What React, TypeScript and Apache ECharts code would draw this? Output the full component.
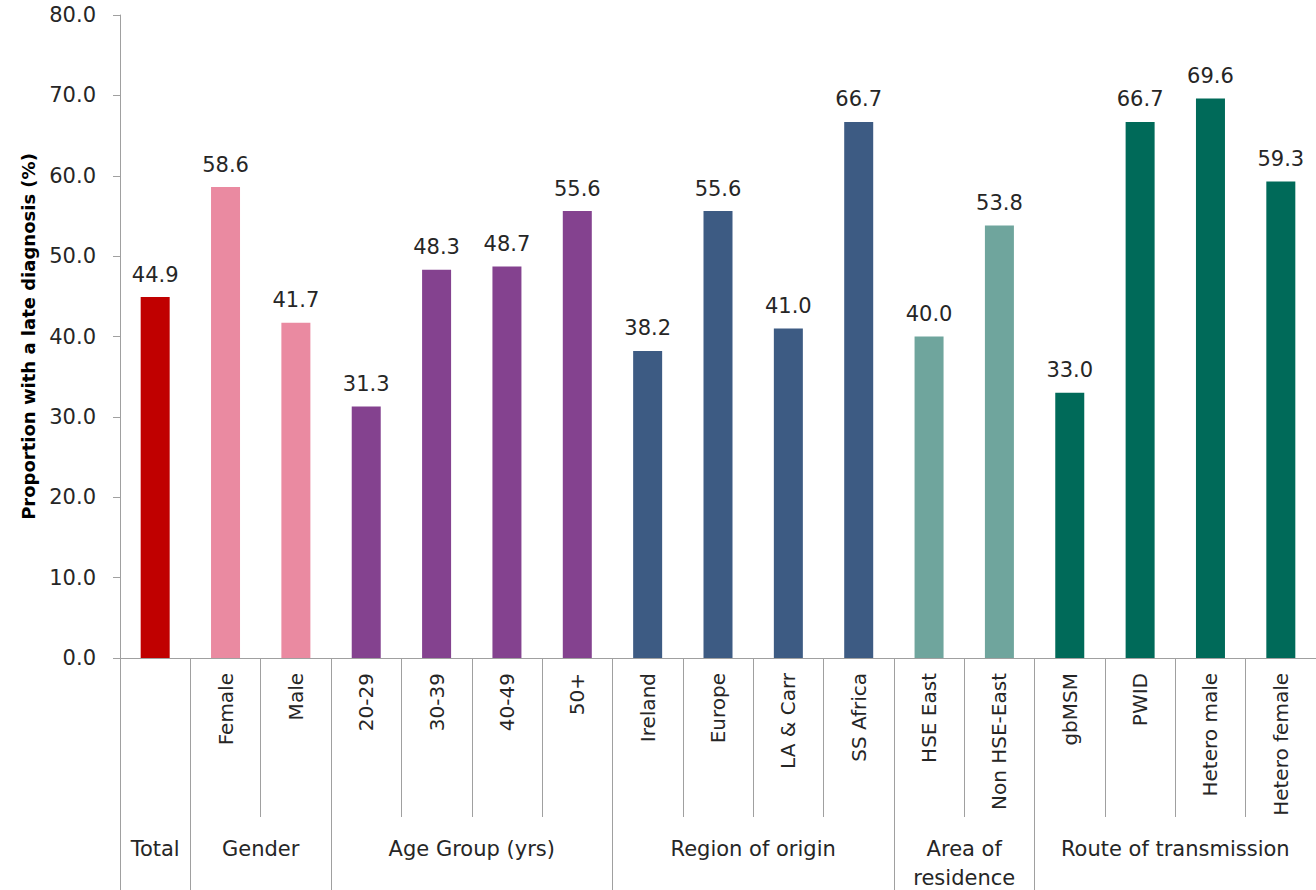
import React, { useEffect, useRef } from "react";
import * as echarts from "echarts";

const categories = [
  "Total", "Female", "Male", "20-29", "30-39", "40-49", "50+",
  "Ireland", "Europe", "LA & Carr", "SS Africa", "HSE East", "Non HSE-East",
  "gbMSM", "PWID", "Hetero male", "Hetero female",
];
const values = [44.9, 58.6, 41.7, 31.3, 48.3, 48.7, 55.6, 38.2, 55.6, 41.0, 66.7, 40.0, 53.8, 33.0, 66.7, 69.6, 59.3];
const groupIndex = [0, 1, 1, 2, 2, 2, 2, 3, 3, 3, 3, 4, 4, 5, 5, 5, 5];
const groupNames = ["Total", "Gender", "Age Group (yrs)", "Region of origin", "Area of\nresidence", "Route of transmission"];
const groupColors = ["#C00000", "#EA8AA1", "#84428F", "#3D5B83", "#6FA59D", "#006A59"];
const yTicks = { min: 0, max: 80, interval: 10 };
const yTitle = "Proportion with a late diagnosis (%)";

const FONT = "DejaVu Sans";
const TEXT = "#262626";
const LINE = "#A0A0A0";

export default function App() {
  const ref = useRef<HTMLDivElement>(null);
  useEffect(() => {
    if (!ref.current) return;
    const chart = echarts.init(ref.current, undefined, { renderer: "svg" });
    const groupSize = groupNames.map((_, g) => groupIndex.filter((x) => x === g).length);
    const isGroupStart = (i: number) => i === 0 || groupIndex[i] !== groupIndex[i - 1];
    chart.setOption({
      animation: false,
      grid: { left: 120, right: -4, top: 15, bottom: 232 },
      xAxis: [
        {
          type: "category",
          data: categories,
          position: "bottom",
          axisLine: { show: true, lineStyle: { color: LINE, width: 1 } },
          axisTick: { show: true, interval: 0, length: 159, lineStyle: { color: LINE, width: 1 } },
          axisLabel: {
            interval: 0,
            rotate: 90,
            margin: 15,
            fontFamily: FONT,
            fontSize: 20,
            color: TEXT,
            formatter: (v: string, i: number) => (groupSize[groupIndex[i]] === 1 ? "" : v),
          },
        },
        {
          type: "category",
          data: categories,
          position: "bottom",
          axisLine: { show: false },
          axisTick: {
            show: true,
            interval: (i: number) => isGroupStart(i),
            length: 232,
            lineStyle: { color: LINE, width: 1 },
          },
          axisLabel: { show: false },
        },
      ],
      yAxis: {
        type: "value",
        min: yTicks.min,
        max: yTicks.max,
        interval: yTicks.interval,
        name: yTitle,
        nameLocation: "middle",
        nameGap: 83,
        nameTextStyle: { fontFamily: FONT, fontSize: 18, fontWeight: "bold", color: "#000" },
        axisLine: { show: true, lineStyle: { color: LINE, width: 1 } },
        axisTick: { show: true, length: 7, lineStyle: { color: LINE } },
        splitLine: { show: false },
        axisLabel: {
          margin: 24,
          fontFamily: FONT,
          fontSize: 21,
          color: TEXT,
          formatter: (v: number) => v.toFixed(1),
        },
      },
      series: [
        {
          type: "bar",
          xAxisIndex: 0,
          barWidth: 29,
          data: values.map((v, i) => ({ value: v, itemStyle: { color: groupColors[groupIndex[i]] } })),
          label: {
            show: true,
            position: "top",
            distance: 12,
            fontFamily: FONT,
            fontSize: 21,
            color: TEXT,
            formatter: (p: any) => Number(p.value).toFixed(1),
          },
        },
      ],
    });
    const graphics: any[] = [];
    groupNames.forEach((name, g) => {
      const idx = groupIndex.map((x, i) => (x === g ? i : -1)).filter((i) => i >= 0);
      const x0 = chart.convertToPixel({ xAxisIndex: 0 }, idx[0]) as number;
      const x1 = chart.convertToPixel({ xAxisIndex: 0 }, idx[idx.length - 1]) as number;
      const y0 = chart.convertToPixel({ yAxisIndex: 0 }, 0) as number;
      graphics.push({
        type: "text",
        x: (x0 + x1) / 2,
        y: y0 + 176,
        style: {
          text: name,
          fontFamily: FONT,
          fontSize: 21,
          fill: TEXT,
          align: "center",
          verticalAlign: "top",
          lineHeight: 29,
        },
      });
    });
    chart.setOption({ graphic: graphics });
    return () => chart.dispose();
  }, []);
  return <div ref={ref} style={{ position: "absolute", left: 0, top: 0, width: 1316, height: 890 }} />;
}
